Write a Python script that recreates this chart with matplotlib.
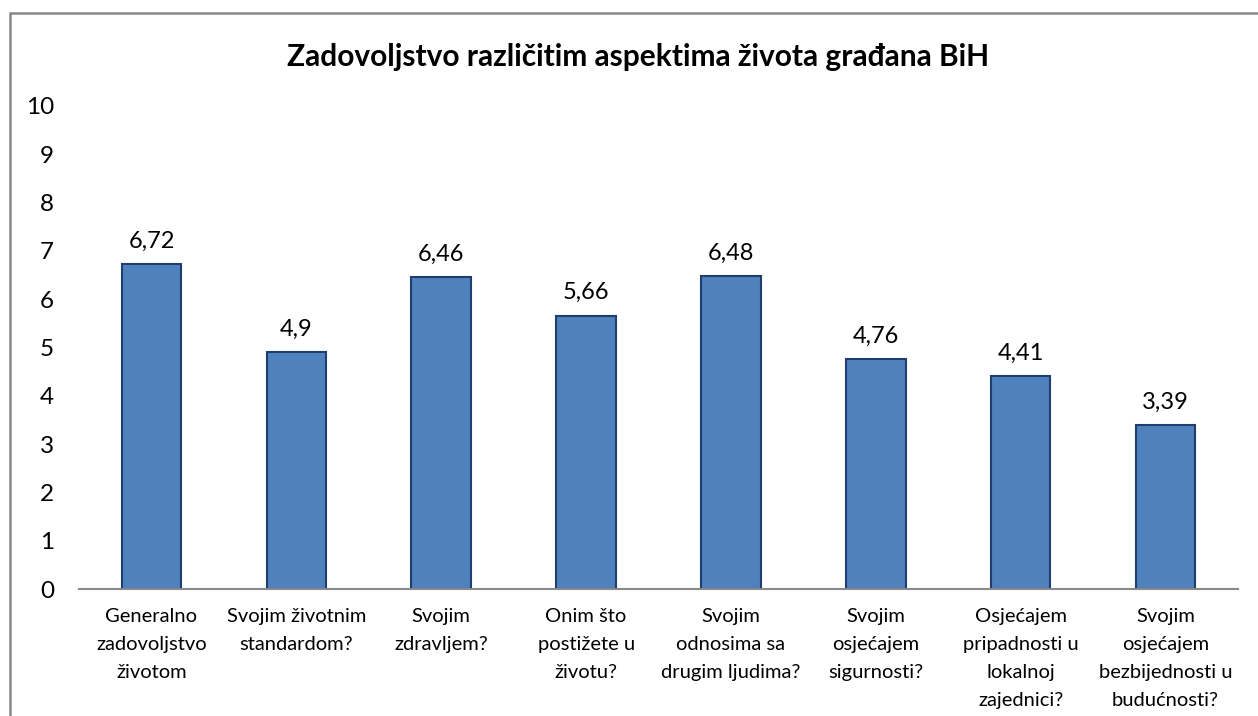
import matplotlib.pyplot as plt
from matplotlib.patches import Rectangle

# ---------------------------------
# DATA
# ---------------------------------
categories = [
    "Generalno\nzadovoljstvo\nživotom",
    "Svojim životnim\nstandardom?",
    "Svojim\nzdravljem?",
    "Onim što\npostižete u\nživotu?",
    "Svojim\nodnosima sa\ndrugim ljudima?",
    "Svojim\nosjećajem\nsigurnosti?",
    "Osjećajem\npripadnosti u\nlokalnoj\nzajednici?",
    "Svojim\nosjećajem\nbezbijednosti u\nbudućnosti?",
]

values = [6.72, 4.9, 6.46, 5.66, 6.48, 4.76, 4.41, 3.39]

y_ticks = list(range(0, 11))

title = "Zadovoljstvo različitim aspektima života građana BiH"

# ---------------------------------
# STYLE
# ---------------------------------
plt.rcParams["font.family"] = ["Lato", "DejaVu Sans"]

W, H = 1258, 716
fig = plt.figure(figsize=(W / 100, H / 100), dpi=100)

# chart frame (only left and top edges fall inside the image)
fig.patches.append(
    Rectangle(
        (10 / W, -0.1),
        1.2,
        1.1 - 13 / H,
        transform=fig.transFigure,
        fill=False,
        edgecolor="#898989",
        linewidth=1.8,
    )
)

ax = fig.add_axes([79 / W, 1 - 589 / H, (1238 - 79) / W, (589 - 106) / H])

x = list(range(len(categories)))

bars = ax.bar(
    x,
    values,
    width=0.41,
    color="#4F81BD",
    edgecolor="#1F3D6E",
    linewidth=1.5,
)

for xi, v in zip(x, values):
    ax.annotate(
        f"{v:g}".replace(".", ","),
        (xi, v),
        xytext=(0, 9),
        textcoords="offset points",
        ha="center",
        va="bottom",
        fontsize=17,
        color="#000000",
    )

ax.set_xlim(-0.5, len(categories) - 0.5)
ax.set_ylim(0, 10)
ax.set_yticks(y_ticks)
ax.set_xticks(x)
ax.set_xticklabels(categories, linespacing=1.78)

ax.tick_params(axis="y", length=0, pad=18, labelsize=17.5)
ax.tick_params(axis="x", length=0, pad=14, labelsize=14.5)

for side in ["top", "right", "left"]:
    ax.spines[side].set_visible(False)

ax.spines["bottom"].set_color("#898989")
ax.spines["bottom"].set_linewidth(1.5)

fig.text(
    638 / W,
    1 - 57 / H,
    title,
    ha="center",
    va="center",
    fontsize=21.5,
    fontweight="bold",
)

fig.savefig("out.png", dpi=100)
